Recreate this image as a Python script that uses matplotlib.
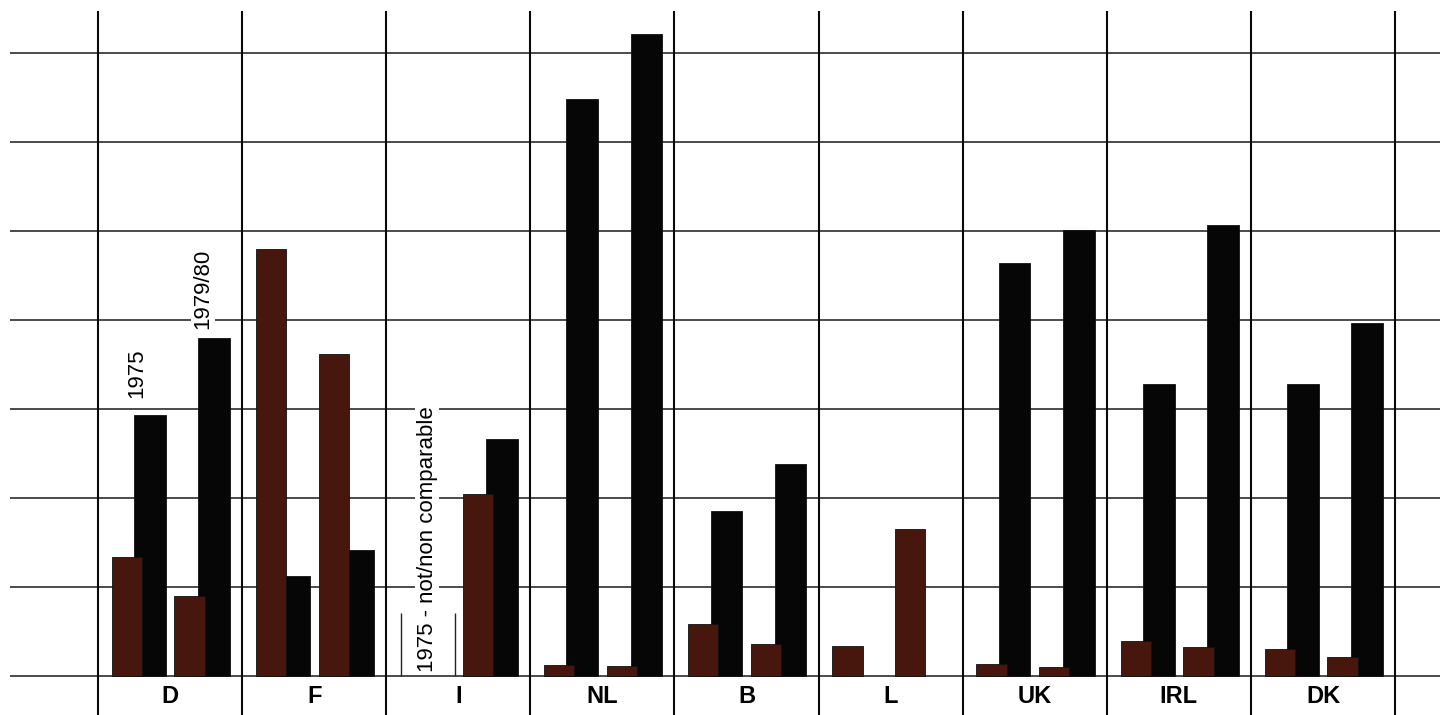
import numpy as np
import matplotlib
matplotlib.use("Agg")
import matplotlib.pyplot as plt

plt.rcParams['font.family'] = ['Liberation Sans', 'DejaVu Sans']

countries = ["D", "F", "I", "NL", "B", "L", "UK", "IRL", "DK"]
# values in grid units (None = not available / not comparable)
brown_1975 = [1.34, 4.80, None, 0.12, 0.58, 0.34, 0.13, 0.39, 0.30]
black_1975 = [2.93, 1.12, None, 6.49, 1.85, None, 4.64, 3.28, 3.28]
brown_1980 = [0.90, 3.62, 2.04, 0.11, 0.36, 1.65, 0.10, 0.33, 0.21]
black_1980 = [3.80, 1.42, 2.66, 7.22, 2.38, None, 5.01, 5.07, 3.97]
grid_levels = [0, 1, 2, 3, 4, 5, 6, 7]

BROWN = "#47160c"
BLACK = "#060606"

fig = plt.figure(figsize=(14.47, 7.15), dpi=100)
ax = fig.add_axes([0, 0, 1, 1])
ax.set_xlim(-0.68, 9.36)
ax.set_ylim(-0.44, 7.6)
ax.axis("off")

# horizontal grid
ax.hlines(grid_levels, -0.61, 9.31, color="#1a1a1a", lw=1.1, zorder=1)
# vertical separators
ax.vlines(np.arange(len(countries) + 1), -0.44, 7.48, color="#0a0a0a", lw=1.5, zorder=1)

x = np.arange(len(countries))

def draw(vals, off, width, color, z):
    xs = [xi + off for xi, v in zip(x, vals) if v is not None]
    hs = [v for v in vals if v is not None]
    ax.bar(xs, hs, width=width, color=color, edgecolor="#111111", lw=0.6, zorder=z, align="center")

draw(black_1975, 0.36, 0.22, BLACK, 2)
draw(brown_1975, 0.20, 0.21, BROWN, 3)
draw(black_1980, 0.805, 0.22, BLACK, 2)
draw(brown_1980, 0.635, 0.21, BROWN, 3)

for xi, c in zip(x, countries):
    ax.text(xi + 0.5, -0.236, c, ha="center", va="center", fontsize=17, fontweight="bold", zorder=5)

# year labels
ax.text(0.27, 3.13, "1975", rotation=90, ha="center", va="bottom", fontsize=16, zorder=5)
ax.text(0.73, 3.90, "1979/80", rotation=90, ha="center", va="bottom", fontsize=16, zorder=5,
        bbox=dict(facecolor="white", edgecolor="none", pad=1))

# Italy note
ax.text(2.285, 0.04, "1975 - not/non comparable", rotation=90, ha="center", va="bottom",
        fontsize=16, zorder=5, bbox=dict(facecolor="white", edgecolor="none", pad=1))
ax.vlines([2.105, 2.475], 0, 0.71, color="#222222", lw=1.0, zorder=4)

fig.savefig("out.png", dpi=100, facecolor="white")
